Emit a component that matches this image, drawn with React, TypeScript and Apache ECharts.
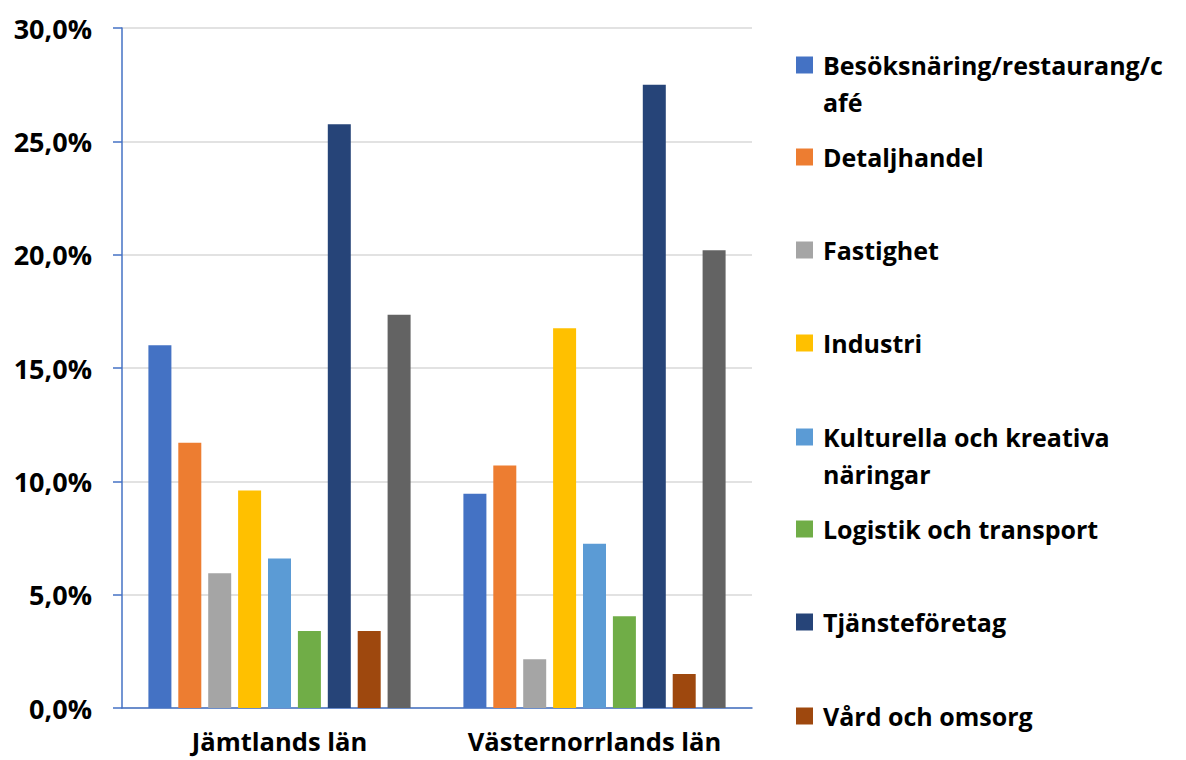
import React, { useEffect, useRef } from "react";
import * as echarts from "echarts";

const categories = ["Jämtlands län", "Västernorrlands län"];
const seriesNames = [
  "Besöksnäring/restaurang/café",
  "Detaljhandel",
  "Fastighet",
  "Industri",
  "Kulturella och kreativa näringar",
  "Logistik och transport",
  "Tjänsteföretag",
  "Vård och omsorg",
  "Övrigt",
];
const seriesColors = ["#4472C4", "#ED7D31", "#A5A5A5", "#FFC000", "#5B9BD5", "#70AD47", "#264478", "#9E480E", "#636363"];
const besoksnaring = [16.0, 9.45];
const detaljhandel = [11.7, 10.7];
const fastighet = [5.95, 2.15];
const industri = [9.6, 16.75];
const kulturella = [6.6, 7.25];
const logistik = [3.4, 4.05];
const tjanste = [25.75, 27.5];
const vard = [3.4, 1.5];
const ovrigt = [17.35, 20.2];
const seriesValues = [besoksnaring, detaljhandel, fastighet, industri, kulturella, logistik, tjanste, vard, ovrigt];
const legendLabels = [
  "Besöksnäring/restaurang/c\nafé",
  "Detaljhandel",
  "Fastighet",
  "Industri",
  "Kulturella och kreativa\nnäringar",
  "Logistik och transport",
  "Tjänsteföretag",
  "Vård och omsorg",
];
const legendCenters = [65, 157, 250, 343, 437, 529, 622, 716];

const FONT = "Open Sans";
const LH = 37;

export default function App() {
  const ref = useRef<HTMLDivElement>(null);
  useEffect(() => {
    if (!ref.current) return;
    const chart = echarts.init(ref.current, undefined, { renderer: "svg" });
    const legends = legendLabels.map((label, i) => {
      const lines = label.split("\n").length;
      const multi = lines > 1;
      const h = multi ? LH * (2 * lines - 1) : LH;
      const pad = multi ? "\n".repeat(lines - 1) : "";
      return {
        orient: "vertical",
        left: 796,
        top: legendCenters[i] - h / 2,
        padding: 0,
        itemWidth: 17,
        itemHeight: 17,
        icon: "rect",
        selectedMode: false,
        data: [seriesNames[i]],
        formatter: () => pad + label,
        textStyle: {
          fontFamily: FONT,
          fontWeight: "bold",
          fontSize: 25,
          color: "#000",
          lineHeight: LH,
          padding: [0, 0, 0, 5],
        },
      };
    });
    chart.setOption({
      animation: false,
      backgroundColor: "#fff",
      textStyle: { fontFamily: FONT },
      legend: legends,
      grid: { left: 122, right: 434, top: 28, bottom: 52, containLabel: false, outerBoundsMode: "none" },
      xAxis: {
        type: "category",
        data: categories,
        axisLine: { lineStyle: { color: "#4472C4", width: 1.5 } },
        axisTick: { show: false },
        axisLabel: {
          interval: 0,
          margin: 19,
          fontFamily: FONT,
          fontWeight: "bold",
          fontSize: 25.5,
          lineHeight: 27,
          color: "#000",
        },
      },
      yAxis: {
        type: "value",
        min: 0,
        max: 30,
        interval: 5,
        axisLine: { show: true, lineStyle: { color: "#4472C4", width: 1.5 } },
        axisTick: { show: true, length: 9, lineStyle: { color: "#4472C4", width: 1.5 } },
        splitLine: { lineStyle: { color: "#D9D9D9", width: 1.5 } },
        axisLabel: {
          margin: 30,
          fontFamily: FONT,
          fontWeight: "bold",
          fontSize: 27,
          color: "#000",
          formatter: (v: number) => v.toFixed(1).replace(".", ",") + "%",
        },
      },
      series: seriesNames.map((name, i) => ({
        name,
        type: "bar",
        data: seriesValues[i],
        barWidth: 23,
        barGap: "30%",
        itemStyle: { color: seriesColors[i] },
      })),
    });
    return () => chart.dispose();
  }, []);
  return (
    <div
      ref={ref}
      style={{ position: "absolute", left: 0, top: 0, width: 1186, height: 760 }}
    />
  );
}
